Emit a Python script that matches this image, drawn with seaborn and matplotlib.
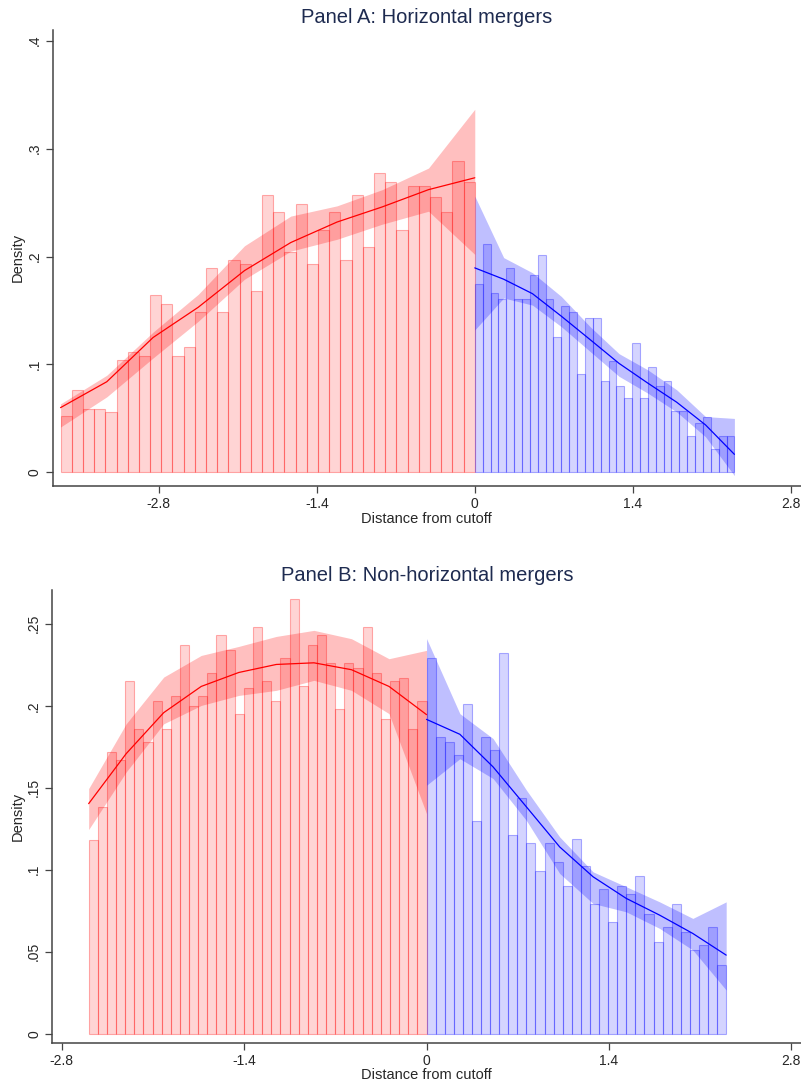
import numpy as np
import pandas as pd
import seaborn as sns
import matplotlib.pyplot as plt

sns.set_style("white")
plt.rcParams['font.family'] = ['Liberation Sans', 'DejaVu Sans']

# ---- Panel A: horizontal mergers ----
a_left_range = (-3.67, 0.0)
a_left_heights = [0.052, 0.076, 0.059, 0.059, 0.056, 0.104, 0.112, 0.108, 0.164, 0.156,
                  0.108, 0.116, 0.149, 0.189, 0.149, 0.197, 0.193, 0.168, 0.257, 0.241,
                  0.204, 0.249, 0.193, 0.225, 0.241, 0.197, 0.257, 0.209, 0.277, 0.269,
                  0.225, 0.265, 0.265, 0.255, 0.241, 0.289, 0.269]
a_right_range = (0.0, 2.30)
a_right_heights = [0.175, 0.212, 0.166, 0.161, 0.189, 0.161, 0.161, 0.183, 0.201, 0.161,
                   0.125, 0.154, 0.149, 0.091, 0.143, 0.143, 0.085, 0.103, 0.080, 0.069,
                   0.120, 0.069, 0.098, 0.080, 0.085, 0.057, 0.057, 0.034, 0.046, 0.051,
                   0.022, 0.034, 0.034]

a_left_grid = [-3.67, -3.26, -2.85, -2.45, -2.04, -1.63, -1.22, -0.82, -0.41, 0.0]
a_left_fit = [0.060, 0.084, 0.125, 0.153, 0.187, 0.213, 0.232, 0.246, 0.262, 0.273]
a_left_hi = [0.0635, 0.090, 0.130, 0.165, 0.210, 0.2375, 0.247, 0.262, 0.282, 0.3365]
a_left_lo = [0.042, 0.070, 0.106, 0.140, 0.179, 0.205, 0.216, 0.230, 0.242, 0.202]

a_right_grid = [0.0, 0.256, 0.511, 0.767, 1.022, 1.278, 1.533, 1.789, 2.044, 2.30]
a_right_fit = [0.1895, 0.179, 0.1656, 0.1447, 0.123, 0.101, 0.0827, 0.065, 0.044, 0.0167]
a_right_hi = [0.256, 0.199, 0.185, 0.163, 0.135, 0.110, 0.095, 0.0765, 0.0517, 0.050]
a_right_lo = [0.132, 0.1616, 0.155, 0.135, 0.112, 0.089, 0.0734, 0.056, 0.033, -0.003]

# ---- Panel B: non-horizontal mergers ----
b_left_range = (-2.593, 0.0)
b_left_heights = [0.118, 0.138, 0.172, 0.167, 0.215, 0.186, 0.178, 0.203, 0.186, 0.206,
                  0.237, 0.200, 0.206, 0.220, 0.243, 0.234, 0.195, 0.211, 0.248, 0.215,
                  0.203, 0.229, 0.265, 0.212, 0.237, 0.243, 0.226, 0.198, 0.226, 0.223,
                  0.248, 0.220, 0.192, 0.215, 0.217, 0.186, 0.203]
b_right_range = (0.0, 2.30)
b_right_heights = [0.229, 0.181, 0.178, 0.170, 0.201, 0.130, 0.181, 0.173, 0.232, 0.121,
                   0.144, 0.116, 0.099, 0.116, 0.105, 0.090, 0.119, 0.102, 0.079, 0.088,
                   0.068, 0.090, 0.085, 0.096, 0.073, 0.056, 0.065, 0.079, 0.062, 0.051,
                   0.054, 0.065, 0.042]

b_left_grid = [-2.593, -2.305, -2.017, -1.729, -1.441, -1.153, -0.864, -0.576, -0.288, 0.0]
b_left_fit = [0.1403, 0.1708, 0.1958, 0.2118, 0.2203, 0.2252, 0.2262, 0.222, 0.2118, 0.1946]
b_left_hi = [0.1495, 0.189, 0.2175, 0.2307, 0.2362, 0.2423, 0.246, 0.2409, 0.2287, 0.2338]
b_left_lo = [0.1245, 0.1596, 0.189, 0.2002, 0.2063, 0.2094, 0.2155, 0.2094, 0.1952, 0.1342]

b_right_grid = [0.0, 0.256, 0.511, 0.767, 1.022, 1.278, 1.533, 1.789, 2.044, 2.30]
b_right_fit = [0.1917, 0.1826, 0.1627, 0.1383, 0.1139, 0.0957, 0.0825, 0.0723, 0.0611, 0.0479]
b_right_hi = [0.241, 0.1952, 0.180, 0.1485, 0.120, 0.0987, 0.0896, 0.0804, 0.0703, 0.0804]
b_right_lo = [0.1515, 0.1677, 0.1556, 0.130, 0.0977, 0.0794, 0.0743, 0.0642, 0.051, 0.0266]

x_ticks = [-2.8, -1.4, 0, 1.4, 2.8]
x_ticklabels = ["-2.8", "-1.4", "0", "1.4", "2.8"]
a_yticks = [0, 0.1, 0.2, 0.3, 0.4]
a_yticklabels = ["0", ".1", ".2", ".3", ".4"]
b_yticks = [0, 0.05, 0.1, 0.15, 0.2, 0.25]
b_yticklabels = ["0", ".05", ".1", ".15", ".2", ".25"]

title_color = "#1e2b50"


def draw_hist(ax, rng, heights, color):
    n = len(heights)
    edges = np.linspace(rng[0], rng[1], n + 1)
    df = pd.DataFrame({"x": (edges[:-1] + edges[1:]) / 2, "h": heights})
    sns.histplot(data=df, x="x", weights="h", bins=n, binrange=rng, ax=ax,
                 facecolor=(*color, 0.17), edgecolor=(*color, 0.3), linewidth=0.8)


def draw_fit(ax, grid, fit, lo, hi, color):
    ax.fill_between(grid, lo, hi, color=color, alpha=0.25, linewidth=0, zorder=3)
    sns.lineplot(x=grid, y=fit, ax=ax, color=color, linewidth=0.9, zorder=4)


def style_axes(ax, xlim, ylim, yticks, yticklabels):
    ax.set_xlim(*xlim)
    ax.set_ylim(*ylim)
    ax.set_xticks(x_ticks)
    ax.set_xticklabels(x_ticklabels, fontsize=10)
    ax.set_yticks(yticks)
    ax.set_yticklabels(yticklabels, fontsize=10, rotation=90, va="center")
    for s in ["top", "right"]:
        ax.spines[s].set_visible(False)
    for s in ["left", "bottom"]:
        ax.spines[s].set_color("#444444")
        ax.spines[s].set_linewidth(1.1)
    ax.tick_params(axis="both", direction="out", length=5, width=0.9,
                   color="#444444", pad=3, left=True, bottom=True)
    ax.set_xlabel("Distance from cutoff", fontsize=10.5)
    ax.set_ylabel("Density", fontsize=10.5)
    ax.xaxis.set_label_coords(0.5, -0.072)
    ax.xaxis.label.set_va("center")
    ax.yaxis.set_label_coords(-0.046, 0.5)
    ax.yaxis.label.set_va("center")


red = (1.0, 0.0, 0.0)
blue = (0.0, 0.0, 1.0)

fig = plt.figure(figsize=(8.01, 10.85), dpi=100)

ax1 = fig.add_axes([0.0657, 0.5523, 0.9343, 0.4201])
draw_hist(ax1, a_left_range, a_left_heights, red)
draw_hist(ax1, a_right_range, a_right_heights, blue)
draw_fit(ax1, a_left_grid, a_left_fit, a_left_lo, a_left_hi, red)
draw_fit(ax1, a_right_grid, a_right_fit, a_right_lo, a_right_hi, blue)
style_axes(ax1, (-3.74, 2.89), (-0.0124, 0.41), a_yticks, a_yticklabels)
fig.text(0.533, 0.984, "Panel A: Horizontal mergers", ha="center", va="center",
         fontsize=14.5, color=title_color)

ax2 = fig.add_axes([0.0653, 0.039, 0.9347, 0.4172])
draw_hist(ax2, b_left_range, b_left_heights, red)
draw_hist(ax2, b_right_range, b_right_heights, blue)
draw_fit(ax2, b_left_grid, b_left_fit, b_left_lo, b_left_hi, red)
draw_fit(ax2, b_right_grid, b_right_fit, b_right_lo, b_right_hi, blue)
style_axes(ax2, (-2.872, 2.874), (-0.0055, 0.2706), b_yticks, b_yticklabels)
fig.text(0.533, 0.47, "Panel B: Non-horizontal mergers", ha="center", va="center",
         fontsize=14.5, color=title_color)

fig.savefig("out.png", dpi=100)
